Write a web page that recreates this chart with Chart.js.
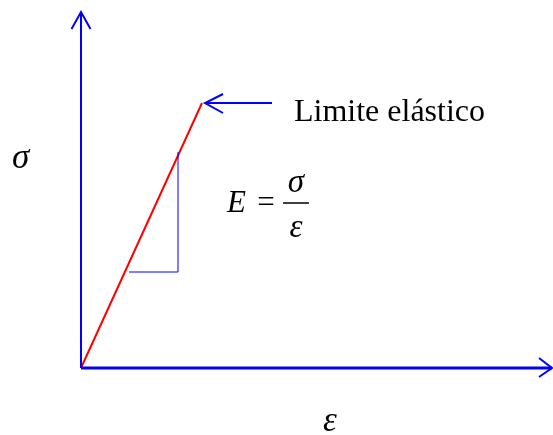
<!DOCTYPE html>
<html>
<head>
<meta charset="utf-8">
<script src="https://cdn.jsdelivr.net/npm/chart.js@4/dist/chart.umd.min.js"></script>
<style>
  html, body { margin: 0; padding: 0; background: #fff; }
  canvas { display: block; }
</style>
</head>
<body>
<canvas id="chart" width="553" height="435"></canvas>
<script>
// Stress-strain sketch, origin at the axis crossing (units are arbitrary)
const strainRange = [-81, 472];
const stressRange = [-67, 368];

// axes with their arrow heads
const stressAxis = [[0, 0], [0, 356]];
const stressArrow = [[-9.5, 339], [0, 356], [9.5, 339]];
const strainAxis = [[0, 0], [471, 0]];
const strainArrow = [[458, 10], [471, 0], [458, -9]];

// linear elastic region, up to the elastic limit
const elasticStrain = [0, 121];
const elasticStress = [0, 265];

// slope triangle under the line
const slopeStrain = [48, 97, 97];
const slopeStress = [96, 96, 216];

// leader arrow pointing at the elastic limit
const leaderLine = [[124, 265], [191, 265]];
const leaderArrow = [[142, 274], [124, 265], [142, 255]];

// text labels: [text, strain, stress]
const limitLabel = ['Limite elástico', 213, 247];
const stressLabel = ['σ', -69, 200];
const strainLabel = ['ε', 242, -63];
const modulusLabel = { lhs: 'E', num: 'σ', den: 'ε', x: 146, bar: 165, barFrom: 202, barTo: 228 };

const toPoints = pairs => pairs.map(([x, y]) => ({ x, y }));
const zip = (xs, ys) => xs.map((x, i) => ({ x, y: ys[i] }));

const BLUE = '#0000ff';
const RED = '#ff0000';

function lineSet(data, color, width) {
  return {
    data,
    borderColor: color,
    borderWidth: width,
    pointRadius: 0,
    showLine: true,
    fill: false,
    tension: 0,
    borderJoinStyle: 'miter'
  };
}

// draws the labels and the modulus formula at data positions
const labelsPlugin = {
  id: 'labels',
  afterDatasetsDraw(chart) {
    const { ctx, scales: { x, y } } = chart;
    const px = v => x.getPixelForValue(v);
    const py = v => y.getPixelForValue(v);
    ctx.save();
    ctx.fillStyle = '#000';
    ctx.textBaseline = 'alphabetic';

    ctx.textAlign = 'left';
    ctx.font = '32px "Liberation Serif"';
    ctx.fillText(limitLabel[0], px(limitLabel[1]), py(limitLabel[2]));

    ctx.font = 'italic 35px "Liberation Serif"';
    ctx.fillText(stressLabel[0], px(stressLabel[1]), py(stressLabel[2]));
    ctx.fillText(strainLabel[0], px(strainLabel[1]), py(strainLabel[2]));

    // E = σ / ε
    const m = modulusLabel;
    ctx.font = 'italic 31px "Liberation Serif"';
    ctx.fillText(m.lhs, px(m.x), py(m.bar - 9));
    ctx.font = '31px "Liberation Serif"';
    ctx.textAlign = 'center';
    ctx.fillText('=', (px(m.x) + 22 + px(m.barFrom)) / 2, py(m.bar - 9));
    const cx = (px(m.barFrom) + px(m.barTo)) / 2;
    ctx.font = 'italic 33px "Liberation Serif"';
    ctx.fillText(m.num, cx, py(m.bar + 11));
    ctx.fillText(m.den, cx, py(m.bar - 34));
    ctx.strokeStyle = '#000';
    ctx.lineWidth = 1.5;
    ctx.beginPath();
    ctx.moveTo(px(m.barFrom), py(m.bar));
    ctx.lineTo(px(m.barTo), py(m.bar));
    ctx.stroke();

    ctx.restore();
  }
};

new Chart(document.getElementById('chart'), {
  type: 'scatter',
  data: {
    datasets: [
      lineSet(toPoints(stressAxis), BLUE, 2),
      lineSet(toPoints(stressArrow), BLUE, 2),
      lineSet(toPoints(strainAxis), BLUE, 3),
      lineSet(toPoints(strainArrow), BLUE, 2),
      lineSet(zip(slopeStrain, slopeStress), BLUE, 1),
      lineSet(zip(elasticStrain, elasticStress), RED, 2),
      lineSet(toPoints(leaderLine), BLUE, 2),
      lineSet(toPoints(leaderArrow), BLUE, 2)
    ]
  },
  options: {
    responsive: false,
    animation: false,
    devicePixelRatio: 1,
    layout: { padding: 0 },
    plugins: {
      legend: { display: false },
      tooltip: { enabled: false }
    },
    scales: {
      x: { type: 'linear', min: strainRange[0], max: strainRange[1], display: false },
      y: { type: 'linear', min: stressRange[0], max: stressRange[1], display: false }
    }
  },
  plugins: [labelsPlugin]
});
</script>
</body>
</html>
